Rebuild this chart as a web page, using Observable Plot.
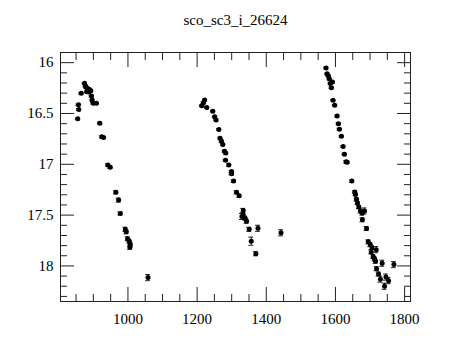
<!DOCTYPE html>
<html>
<head>
<meta charset="utf-8">
<script src="https://cdn.jsdelivr.net/npm/d3@7"></script>
<script src="https://cdn.jsdelivr.net/npm/@observablehq/plot@0.6"></script>
<style>
  html, body { margin: 0; padding: 0; background: #fff; }
  #chart svg { display: block; }
  #chart svg, #chart svg text { font-family: "Liberation Serif", "DejaVu Serif", serif !important; }
</style>
</head>
<body>
<div id="chart"></div>
<script>
const title = "sco_sc3_i_26624";

const jd = [
  855, 857, 858, 865, 874.5, 877.4, 879.4, 881, 884, 887, 889, 892.8, 894.8, 896.8, 899.7, 909,
  918.8, 924.6, 929.6, 942, 949, 965.2, 973, 978, 992.5, 995.4, 999, 1004, 1005.8, 1007, 1058,
  1213.6, 1218.5, 1222, 1228, 1245.5, 1251, 1255, 1263, 1266.7, 1270.7, 1274.5, 1279.4, 1283, 1282.3,
  1292, 1299.7, 1299.7, 1305.5, 1314, 1321.7, 1333.3, 1333.3, 1329.6, 1339, 1343, 1350.7, 1376,
  1356.5, 1370, 1442.6,
  1573, 1576, 1579.7, 1582.6, 1591.3, 1585.5, 1588.4, 1593.3, 1598, 1605, 1608.7, 1611.6, 1617.4,
  1622.3, 1626, 1631, 1634, 1647.5, 1656, 1658, 1661, 1663.8, 1667.8, 1672.5, 1677.4, 1684, 1678,
  1690, 1695, 1700.6, 1705.5, 1703.5, 1718, 1709, 1713, 1716, 1719, 1735, 1769, 1724.6, 1730,
  1746, 1753.6, 1742
];
const mag = [
  16.553, 16.415, 16.46, 16.302, 16.203, 16.23, 16.243, 16.286, 16.253, 16.289, 16.263, 16.276, 16.329, 16.368, 16.40, 16.40,
  16.595, 16.73, 16.736, 17.007, 17.03, 17.276, 17.352, 17.484, 17.64, 17.664, 17.733, 17.757, 17.816, 17.79, 18.115,
  16.424, 16.395, 16.368, 16.44, 16.477, 16.533, 16.563, 16.658, 16.743, 16.773, 16.806, 16.872, 16.89, 16.96,
  17.007, 17.072, 17.092, 17.165, 17.276, 17.31, 17.454, 17.497, 17.513, 17.53, 17.56, 17.64, 17.63,
  17.757, 17.88, 17.674,
  16.052, 16.11, 16.13, 16.16, 16.19, 16.204, 16.246, 16.37, 16.418, 16.526, 16.6, 16.655, 16.724,
  16.825, 16.9, 16.975, 16.98, 17.165, 17.273, 17.296, 17.345, 17.38, 17.42, 17.46, 17.48, 17.46, 17.546,
  17.632, 17.763, 17.79, 17.82, 17.862, 17.84, 17.908, 17.93, 17.954, 18.027, 17.974, 17.987, 18.08, 18.13,
  18.11, 18.145, 18.2
];
const err = [
  0.008, 0.008, 0.008, 0.008, 0.008, 0.008, 0.008, 0.008, 0.008, 0.008, 0.008, 0.008, 0.008, 0.008, 0.008, 0.008,
  0.01, 0.01, 0.01, 0.012, 0.012, 0.015, 0.02, 0.015, 0.02, 0.02, 0.02, 0.02, 0.02, 0.02, 0.03,
  0.008, 0.008, 0.008, 0.008, 0.008, 0.008, 0.008, 0.008, 0.01, 0.01, 0.01, 0.01, 0.01, 0.01,
  0.012, 0.012, 0.012, 0.012, 0.015, 0.015, 0.02, 0.02, 0.03, 0.02, 0.02, 0.02, 0.03,
  0.04, 0.02, 0.03,
  0.008, 0.008, 0.008, 0.008, 0.008, 0.008, 0.008, 0.008, 0.008, 0.01, 0.01, 0.01, 0.01,
  0.01, 0.01, 0.012, 0.012, 0.012, 0.012, 0.012, 0.015, 0.015, 0.015, 0.02, 0.02, 0.03, 0.02,
  0.02, 0.02, 0.02, 0.02, 0.02, 0.03, 0.02, 0.02, 0.02, 0.02, 0.03, 0.03, 0.02, 0.03,
  0.03, 0.03, 0.03
];

const xMajor = [1000, 1200, 1400, 1600, 1800];
const xMinor = [850, 900, 950, 1050, 1100, 1150, 1250, 1300, 1350, 1450, 1500, 1550, 1650, 1700, 1750];
const yMajor = [16, 16.5, 17, 17.5, 18];
const yMinor = [16.1, 16.2, 16.3, 16.4, 16.6, 16.7, 16.8, 16.9, 17.1, 17.2, 17.3, 17.4, 17.6, 17.7, 17.8, 17.9, 18.1, 18.2, 18.3];

const data = jd.map((x, i) => ({x, y: mag[i], e: err[i]}));
const capHalf = 7;
const ink = "#222";
const blank = () => "";

const chart = Plot.plot({
  width: 460,
  height: 340,
  marginLeft: 60,
  marginRight: 50,
  marginTop: 52,
  marginBottom: 39,
  style: {fontFamily: "'Liberation Serif', serif", fontSize: "15px", background: "#fff", color: "#000"},
  x: {domain: [805, 1817], axis: null},
  y: {domain: [15.9, 18.35], reverse: true, axis: null},
  marks: [
    Plot.frame({stroke: ink}),
    Plot.axisX({anchor: "bottom", ticks: xMajor, tickSize: -14, tickFormat: blank, stroke: ink, label: null}),
    Plot.axisX({anchor: "top", ticks: xMajor, tickSize: -14, tickFormat: blank, stroke: ink, label: null}),
    Plot.axisX({anchor: "bottom", ticks: xMinor, tickSize: -7, tickFormat: blank, stroke: ink, label: null}),
    Plot.axisX({anchor: "top", ticks: xMinor, tickSize: -7, tickFormat: blank, stroke: ink, label: null}),
    Plot.axisY({anchor: "left", ticks: yMajor, tickSize: -14, tickFormat: blank, stroke: ink, label: null}),
    Plot.axisY({anchor: "right", ticks: yMajor, tickSize: -14, tickFormat: blank, stroke: ink, label: null}),
    Plot.axisY({anchor: "left", ticks: yMinor, tickSize: -7, tickFormat: blank, stroke: ink, label: null}),
    Plot.axisY({anchor: "right", ticks: yMinor, tickSize: -7, tickFormat: blank, stroke: ink, label: null}),
    Plot.axisX({anchor: "bottom", ticks: xMajor, tickSize: 0, tickPadding: 12, tickFormat: d => String(d), fill: "#000", label: null}),
    Plot.axisY({anchor: "left", ticks: yMajor, tickSize: 0, tickPadding: 7, tickFormat: d => String(d), fill: "#000", label: null}),
    Plot.ruleX(data, {x: "x", y1: d => d.y - d.e, y2: d => d.y + d.e, stroke: ink}),
    Plot.ruleY(data, {y: d => d.y - d.e, x1: d => d.x - capHalf, x2: d => d.x + capHalf, stroke: ink}),
    Plot.ruleY(data, {y: d => d.y + d.e, x1: d => d.x - capHalf, x2: d => d.x + capHalf, stroke: ink}),
    Plot.dot(data, {x: "x", y: "y", r: 2.5, fill: "#000", stroke: null}),
    Plot.text([title], {frameAnchor: "top", dy: -38, fontSize: 15, fill: "#000"})
  ]
});
document.getElementById("chart").appendChild(chart);
</script>
</body>
</html>
